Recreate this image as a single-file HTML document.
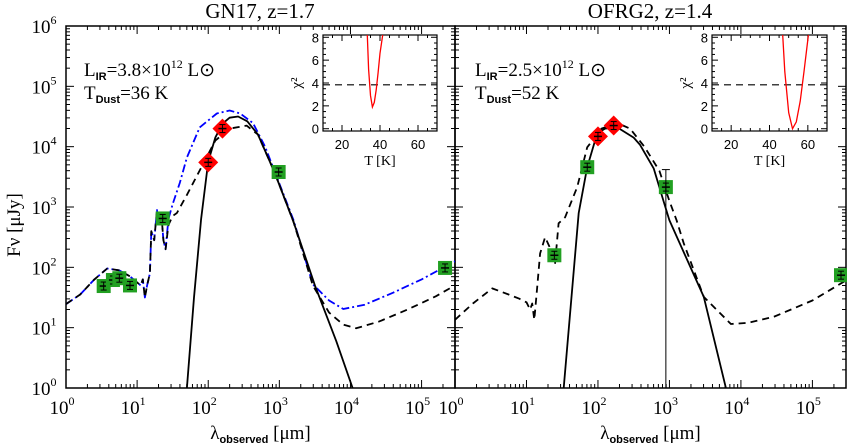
<!DOCTYPE html>
<html><head><meta charset="utf-8">
<style>
html,body{margin:0;padding:0;background:#fff;}
svg{display:block;font-family:"Liberation Serif",serif;}
.sans{font-family:"Liberation Sans",sans-serif;}
</style></head>
<body>
<svg id="fig" width="847" height="445" viewBox="0 0 847 445" xmlns="http://www.w3.org/2000/svg">
<g id="root"></g>
</svg>
<script>
// ---------- data (log10 wavelength [um], log10 flux [uJy]) ----------
const leftSolidX = [1.70,1.80,1.90,2.00,2.10,2.20,2.30,2.42,2.55,2.70,2.93,3.20,3.50,3.80,4.03];
const leftSolidY = [0.00,1.50,2.80,3.75,4.15,4.38,4.48,4.50,4.42,4.20,3.58,2.75,1.70,0.78,0.00];
const leftDashX = [0.00,0.20,0.40,0.58,0.75,0.90,1.00,1.05,1.08,1.11,1.14,1.18,1.20,1.24,1.28,1.30,1.34,1.37,1.40,1.44,1.50,1.56,1.70,1.93,2.10,2.30,2.54,2.70,2.93,3.20,3.47,3.70,3.90,4.08,4.40,4.80,5.20,5.47];
const leftDashY = [1.39,1.55,1.80,1.98,1.95,1.85,1.75,1.70,1.80,1.50,1.70,1.90,2.60,2.45,2.95,2.70,2.90,2.45,2.30,2.70,2.85,2.90,3.20,3.72,4.10,4.30,4.35,4.20,3.58,2.75,1.70,1.25,1.05,0.99,1.10,1.30,1.52,1.70];
const leftBlueX = [0.00,0.20,0.40,0.58,0.75,0.90,1.00,1.05,1.08,1.11,1.14,1.18,1.20,1.24,1.28,1.30,1.34,1.37,1.40,1.44,1.50,1.60,1.70,1.88,2.12,2.30,2.45,2.63,2.80,2.93,3.20,3.47,3.70,3.90,4.20,4.60,5.00,5.47];
const leftBlueY = [1.39,1.55,1.80,1.98,1.95,1.85,1.75,1.70,1.80,1.50,1.70,1.90,2.60,2.45,2.95,2.70,2.90,2.45,2.30,2.80,3.05,3.40,3.82,4.32,4.55,4.60,4.55,4.39,4.00,3.60,2.78,1.72,1.45,1.31,1.38,1.58,1.80,2.10];
const rightSolidX = [1.52,1.73,1.85,1.99,2.10,2.27,2.50,2.59,2.78,2.92,3.00,3.48,3.79];
const rightSolidY = [0.00,2.90,3.66,4.22,4.30,4.32,4.15,4.03,3.64,3.09,2.78,1.51,0.00];
const rightDashX = [0.00,0.25,0.52,0.75,0.90,1.00,1.05,1.08,1.11,1.15,1.19,1.26,1.33,1.40,1.45,1.54,1.71,1.85,2.05,2.27,2.45,2.65,2.86,3.00,3.10,3.20,3.48,3.86,4.10,4.46,5.00,5.48];
const rightDashY = [1.13,1.40,1.65,1.55,1.48,1.42,1.30,1.40,1.13,1.67,2.23,2.50,2.32,2.07,2.73,2.83,3.33,3.99,4.30,4.39,4.30,4.00,3.60,3.10,2.78,2.40,1.51,1.06,1.08,1.18,1.45,1.79];
const leftGreenX = [0.53,0.66,0.75,0.90,1.36,2.99,5.33];
const leftGreenY = [1.69,1.79,1.82,1.70,2.81,3.58,1.99];
const leftRedX = [2.00,2.20];
const leftRedY = [3.74,4.30];
const rightGreenX = [1.39,1.85,2.95,5.40];
const rightGreenY = [2.20,3.66,3.33,1.87];
const rightRedX = [2.00,2.22];
const rightRedY = [4.17,4.35];
const chiLeftT = [33.3,34,35,36,37,38,39,40,41.4];
const chiLeftV = [8.2,5.2,2.9,1.9,2.3,3.4,4.9,6.6,8.2];
const chiRightT = [46.9,48,50,52,54,56,58,60.3];
const chiRightV = [8.2,5.0,1.4,0.0,0.6,2.4,5.0,8.2];
const xTickLabels = ["0","1","2","3","4","5"];
const yTickLabels = ["0","1","2","3","4","5","6"];
const chiXTicks = [20,40,60];
const chiYTicks = [0,2,4,6,8];

const NS="http://www.w3.org/2000/svg";
const root=document.getElementById('root');
function el(tag,attrs,parent){const e=document.createElementNS(NS,tag);for(const k in attrs)e.setAttribute(k,attrs[k]);(parent||root).appendChild(e);return e;}

const Y0=388, Y6=26, XMAX=5.47;
function makePanel(x0,x1){
  return {x:v=>x0+(x1-x0)*v/XMAX, y:v=>Y0+(Y6-Y0)*v/6, x0:x0, x1:x1};
}
const P=[makePanel(66,455),makePanel(455,846)];

function line(p,xs,ys,stroke,dash,w,name){
  let d='';
  for(let i=0;i<xs.length;i++){d+=(i?'L':'M')+p.x(xs[i]).toFixed(1)+','+p.y(ys[i]).toFixed(1);}
  const e=el('path',{d:d,fill:'none',stroke:stroke,'stroke-width':w,'stroke-dasharray':dash||'none','stroke-linejoin':'round','clip-path':'url(#clip'+(p===P[0]?0:1)+')'});
  
  
}
const defs=el('defs',{});
P.forEach((p,i)=>{const c=el('clipPath',{id:'clip'+i},defs);el('rect',{x:p.x0,y:Y6,width:p.x1-p.x0,height:Y0-Y6},c);});

function axes(p,idx){
  const g=el('g',{});
  
  
  el('rect',{x:p.x0,y:Y6,width:p.x1-p.x0,height:Y0-Y6,fill:'none',stroke:'#000','stroke-width':1.5},g);
  for(let d=0; d<=5; d++){
    for(let m=1;m<10;m++){
      const v=d+Math.log10(m); if(v>XMAX)break;
      const X=p.x(v), L=m===1?8:4;
      el('line',{x1:X,x2:X,y1:Y0,y2:Y0-L,stroke:'#000','stroke-width':1},g);
      el('line',{x1:X,x2:X,y1:Y6,y2:Y6+L,stroke:'#000','stroke-width':1},g);
    }
  }
  for(let d=0; d<6; d++){
    for(let m=1;m<10;m++){
      const v=d+Math.log10(m); const Yv=p.y(v), L=m===1?8:4;
      el('line',{x1:p.x0,x2:p.x0+L,y1:Yv,y2:Yv,stroke:'#000','stroke-width':1},g);
      el('line',{x1:p.x1,x2:p.x1-L,y1:Yv,y2:Yv,stroke:'#000','stroke-width':1},g);
    }
  }
  xTickLabels.forEach((t,i)=>{
    const X=p.x(+t);
    const tx=el('text',{x:X-4,y:414,'font-size':19,'text-anchor':'middle'},g);
    
    
    tx.textContent='10';
    const s=el('tspan',{dy:-9,'font-size':12},tx); s.textContent=t;
  });
  if(idx===0){
    yTickLabels.forEach(t=>{
      const tx=el('text',{x:44,y:p.y(+t)+7,'font-size':19,'text-anchor':'middle'},g);
      
      
      tx.textContent='10';
      const s=el('tspan',{dy:-9,'font-size':12},tx); s.textContent=t;
    });
  }
  const xl=el('text',{x:(p.x0+p.x1)/2,y:439,'font-size':19,'text-anchor':'middle'},g);
  
  
  xl.textContent='λ';
  const sub=el('tspan',{dy:4,'font-size':11,'font-weight':'bold','font-family':'Liberation Sans'},xl); sub.textContent='observed';
  const rest=el('tspan',{dy:-4},xl); rest.textContent=' [μm]';
}
axes(P[0],0); axes(P[1],1);

// titles
[['GN17,  z=1.7',260],['OFRG2,  z=1.4',650]].forEach(([t,x])=>{
  const tx=el('text',{x:x,y:18,'font-size':21,'text-anchor':'middle'});
  
  
  tx.textContent=t;
});
const yl=el('text',{x:0,y:0,'font-size':19,'text-anchor':'middle',transform:'translate(20,225) rotate(-90)'});


yl.textContent='Fν [μJy]';

// annotations
function annot(x,L,T){
  const a=el('text',{x:x,y:76,'font-size':19});
  
  
  a.textContent='L';
  let s=el('tspan',{dy:4,'font-size':11,'font-weight':'bold','font-family':'Liberation Sans'},a); s.textContent='IR';
  s=el('tspan',{dy:-4},a); s.textContent='='+L+'×10';
  s=el('tspan',{dy:-8,'font-size':12},a); s.textContent='12';
  s=el('tspan',{dy:8},a); s.textContent=' L⊙';
  const b=el('text',{x:x,y:99,'font-size':19});
  
  
  b.textContent='T';
  s=el('tspan',{dy:4,'font-size':11,'font-weight':'bold','font-family':'Liberation Sans'},b); s.textContent='Dust';
  s=el('tspan',{dy:-4},b); s.textContent='='+T+' K';
}
annot(84,'3.8','36'); annot(475,'2.5','52');

// series
line(P[0],leftBlueX,leftBlueY,'#0000ff','8,3,2,3',1.8,'agn-template-line');
line(P[0],leftDashX,leftDashY,'#000','7,5',1.8,'sf-template-line');
line(P[0],leftSolidX,leftSolidY,'#000','',1.8,'greybody-line');
line(P[1],rightDashX,rightDashY,'#000','7,5',1.8,'sf-template-line');
line(P[1],rightSolidX,rightSolidY,'#000','',1.8,'greybody-line');

function points(p,xs,ys,type){
  for(let i=0;i<xs.length;i++){
    const X=p.x(xs[i]),Yv=p.y(ys[i]);
    let e;
    if(type==='green'){e=el('rect',{x:X-7,y:Yv-7,width:14,height:14,fill:'#22a022'});}
    else{e=el('polygon',{points:`${X},${Yv-10} ${X+10},${Yv} ${X},${Yv+10} ${X-10},${Yv}`,fill:'#ff0000'});}
    
    
    el('line',{x1:X-4,x2:X+4,y1:Yv,y2:Yv,stroke:'#000','stroke-width':1.5});
    el('line',{x1:X-3,x2:X+3,y1:Yv-4,y2:Yv-4,stroke:'#000','stroke-width':1});
    el('line',{x1:X-3,x2:X+3,y1:Yv+4,y2:Yv+4,stroke:'#000','stroke-width':1});
    el('line',{x1:X,x2:X,y1:Yv-4,y2:Yv+4,stroke:'#000','stroke-width':1});
  }
}
points(P[0],leftGreenX,leftGreenY,'green');
points(P[0],leftRedX,leftRedY,'red');
points(P[1],rightGreenX,rightGreenY,'green');
points(P[1],rightRedX,rightRedY,'red');
// big error bar on 850um right panel
{const X=P[1].x(rightGreenX[2]);
 const e=el('line',{x1:X,x2:X,y1:P[1].y(3.62),y2:Y0,stroke:'#000','stroke-width':1});
 
 
 el('line',{x1:X-4,x2:X+4,y1:P[1].y(3.62),y2:P[1].y(3.62),stroke:'#000','stroke-width':1});}

// insets
function inset(x0,x1,Ts,Vs,name){
  const y0=35,y1=131;
  const tx=t=>x0+(x1-x0)*(t-10)/60, ty=v=>131-(v+0.2)*(96/8.4);
  const g=el('g',{class:'sans'}); 
  
  el('rect',{x:x0,y:y0,width:x1-x0,height:y1-y0,fill:'#fff',stroke:'#000','stroke-width':1.2},g);
  for(let t=10;t<=70;t+=5){const L=t%20===0?6:3;
    el('line',{x1:tx(t),x2:tx(t),y1:y1,y2:y1-L,stroke:'#000'},g);
    el('line',{x1:tx(t),x2:tx(t),y1:y0,y2:y0+L,stroke:'#000'},g);}
  for(let v=0;v<=8;v+=0.5){const L=v%2===0?6:3;
    el('line',{x1:x0,x2:x0+L,y1:ty(v),y2:ty(v),stroke:'#000'},g);
    el('line',{x1:x1,x2:x1-L,y1:ty(v),y2:ty(v),stroke:'#000'},g);}
  chiXTicks.forEach(t=>{const e=el('text',{x:tx(t),y:149,'font-size':13,'text-anchor':'middle'},g);
    
     e.textContent=t;});
  chiYTicks.forEach(v=>{const e=el('text',{x:x0-4,y:ty(v)+5,'font-size':13,'text-anchor':'end'},g);
    
     e.textContent=v;});
  const xl=el('text',{x:(x0+x1)/2,y:165,'font-size':14,'text-anchor':'middle','font-family':'Liberation Serif'},g);
   
  xl.textContent='T [K]';
  const yl=el('text',{x:0,y:0,'font-size':15,'text-anchor':'middle','font-family':'Liberation Serif',transform:`translate(${x0-22},${ty(4)}) rotate(-90)`},g);
   
  yl.textContent='χ²';
  el('line',{x1:x0,x2:x1,y1:ty(3.84),y2:ty(3.84),stroke:'#000','stroke-width':1.2,'stroke-dasharray':'7,5'},g);
  const cid='ic'+name; const c=el('clipPath',{id:cid},defs); el('rect',{x:x0,y:y0,width:x1-x0,height:y1-y0},c);
  let d=''; for(let i=0;i<Ts.length;i++) d+=(i?'L':'M')+tx(Ts[i]).toFixed(1)+','+ty(Vs[i]).toFixed(1);
  const p=el('path',{d:d,fill:'none',stroke:'#ff0000','stroke-width':1.3,'clip-path':`url(#${cid})`},g);
   
}
inset(323,437,chiLeftT,chiLeftV,'left-chi2-inset');
inset(712,827,chiRightT,chiRightV,'right-chi2-inset');
</script>
</body></html>
